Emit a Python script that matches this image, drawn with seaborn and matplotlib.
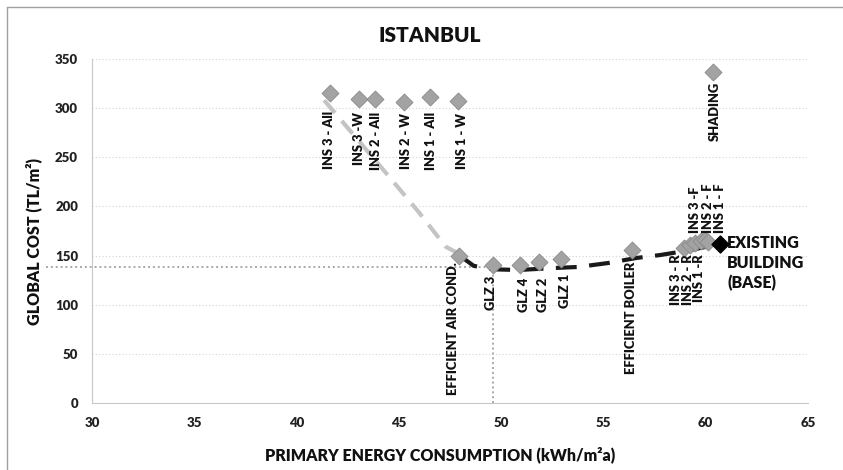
import pandas as pd
import seaborn as sns
import matplotlib.pyplot as plt
from matplotlib.lines import Line2D

# measures: primary energy (kWh/m2a) and global cost (TL/m2)
labels = ['INS 3 - All', 'INS 3 -W', 'INS 2 - All', 'INS 2 - W', 'INS 1 - All', 'INS 1 - W',
          'EFFICIENT AIR COND.', 'GLZ 3', 'GLZ 4', 'GLZ 2', 'GLZ 1', 'EFFICIENT BOILER',
          'INS 3 - R', 'INS 2 - R', 'INS 1 -R', 'INS 3 -F', 'INS 2 - F', 'INS 1 - F', 'SHADING']
energy = [41.65, 43.05, 43.85, 45.25, 46.5, 47.9,
          47.95, 49.6, 50.9, 51.85, 52.95, 56.4,
          58.95, 59.25, 59.5, 59.75, 59.95, 60.1, 60.35]
cost = [315, 309, 309, 306, 311, 307,
        150, 140, 140, 143, 147, 156,
        158, 161, 163, 165, 166, 164, 337]

base_energy = 60.7
base_cost = 162

# light gray dashed curve (insulation packages -> air conditioning)
gray_energy = [41.35, 44.17, 45.98, 47.29, 47.83, 47.97]
gray_cost = [308, 239, 194, 159, 153, 150]

# black dashed curve (cost-optimal front towards the base case)
black_energy = [47.97, 48.66, 49.63, 50.85, 52.55, 53.77, 55.23, 56.6, 57.8, 59.27, 60.7]
black_cost = [150, 139.5, 136, 135.3, 137.3, 138.4, 142.4, 147.5, 150.6, 155.6, 162]

opt_energy = 49.6
opt_cost = 138

# label offsets in pixels from the marker, and side of the marker
label_dx = [-1, 0, 1, 2, 1, 4,
            -6, -2, 4, 4, 4, -1,
            -8, -2, 4, -6, 3, 12, 2]
label_dy = [-17, -13, -13, -11, -15, -12,
            -7, -10, -12, -15, -15, -12,
            -7, -10, -12, 8, 7, 9, -10]
label_va = ['top'] * 15 + ['bottom'] * 3 + ['top']

sns.set_style('white')
plt.rcParams['font.family'] = ['Lato', 'DejaVu Sans']
heavy = 'heavy'

fig = plt.figure(figsize=(8.43, 4.70), dpi=100)
ax = fig.add_axes([0.1091, 0.1426, 0.8494, 0.7319])

for yv in range(50, 351, 50):
    ax.axhline(yv, color='#d4d4d4', lw=0.8, ls=(0, (1, 2)), zorder=0)

sns.lineplot(x=gray_energy, y=gray_cost, sort=False, ax=ax, color='#c4c4c4',
             lw=3, zorder=2)
ax.lines[-1].set_dashes((4, 2.5))
sns.lineplot(x=black_energy, y=black_cost, sort=False, ax=ax, color='#1a1a1a',
             lw=3, zorder=2)
ax.lines[-1].set_dashes((5, 3))

ax.plot([27.75, opt_energy], [opt_cost, opt_cost], color='#a8a8a8', lw=1.4,
        ls=(0, (1, 1.5)), clip_on=False, zorder=1)
ax.plot([opt_energy, opt_energy], [0, opt_cost], color='#a8a8a8', lw=1.4,
        ls=(0, (1, 1.5)), zorder=1)

pts = pd.DataFrame({'energy': energy, 'cost': cost})
sns.scatterplot(data=pts, x='energy', y='cost', ax=ax, marker='D', s=75,
                color='#a3a3a3', edgecolor='#8a8a8a', linewidth=0.6, zorder=3)
ax.scatter([base_energy], [base_cost], marker='D', s=75, color='#000000', zorder=4)

for lab, x, y, dx, dy, va in zip(labels, energy, cost, label_dx, label_dy, label_va):
    ax.annotate(lab, xy=(x, y), xytext=(dx, dy), textcoords='offset pixels',
                rotation=90, ha='center', va=va, fontsize=9.3,
                fontweight=heavy, color='#111111', zorder=5)

ax.annotate('EXISTING\nBUILDING\n(BASE)', xy=(base_energy, base_cost), xytext=(7, 9),
            textcoords='offset pixels', ha='left', va='top', fontsize=11.5,
            fontweight=heavy, color='#111111', linespacing=1.3)

ax.set_xlim(30, 65)
ax.set_ylim(0, 350)
ax.set_xticks(range(30, 66, 5))
ax.set_yticks(range(0, 351, 50))
for side in ['top', 'right']:
    ax.spines[side].set_visible(False)
for side in ['left', 'bottom']:
    ax.spines[side].set_color('#c8c8c8')
ax.tick_params(axis='both', length=4, color='#c8c8c8', labelsize=9.5, pad=6)
for t in ax.get_xticklabels() + ax.get_yticklabels():
    t.set_fontweight(heavy)
    t.set_color('#222222')

ax.set_xlabel('PRIMARY ENERGY CONSUMPTION (kWh/m²a)', fontsize=11.5,
              fontweight=heavy, color='#111111')
ax.set_ylabel('GLOBAL COST (TL/m²)', fontsize=11.5, fontweight=heavy,
              color='#111111')
ax.xaxis.set_label_coords(0.486, -0.125)
ax.yaxis.set_label_coords(-0.07, 0.47)
fig.text(0.51, 0.925, 'ISTANBUL', ha='center', va='center', fontsize=15,
         fontweight=heavy, color='#111111')

# chart area border
fig.add_artist(Line2D([7 / 843, 7 / 843], [0, 1 - 7 / 470], color='#a0a0a0', lw=1))
fig.add_artist(Line2D([7 / 843, 1], [1 - 7 / 470, 1 - 7 / 470], color='#a0a0a0', lw=1))

fig.savefig('out.png', dpi=100)
